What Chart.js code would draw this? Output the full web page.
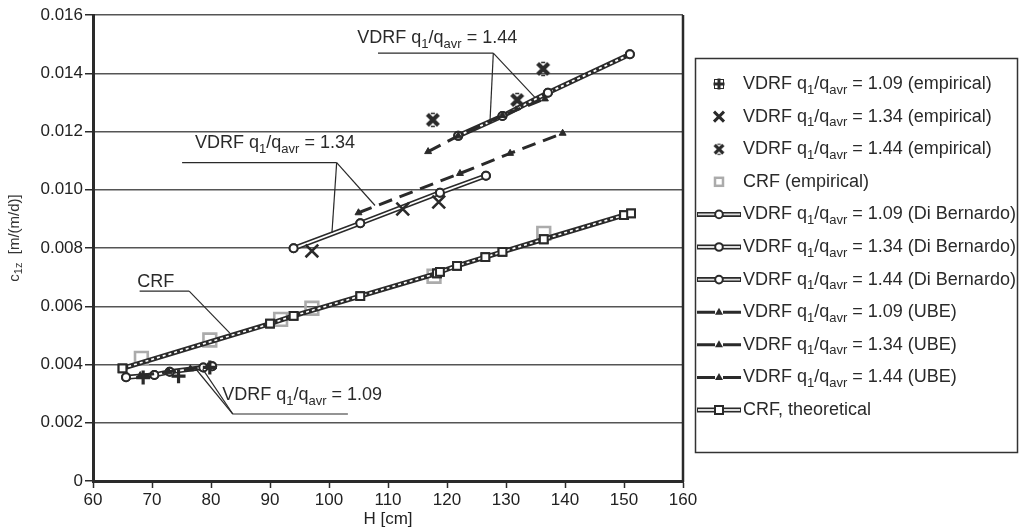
<!DOCTYPE html>
<html><head><meta charset="utf-8">
<style>html,body{margin:0;padding:0;background:#fff;}#wrap{width:1021px;height:532px;}</style>
<script src="https://cdn.jsdelivr.net/npm/chart.js@4.4.0/dist/chart.umd.min.js"></script>
</head><body><div id="wrap"><canvas id="c" width="1021" height="532"></canvas></div>
<script>
// ---------- data ----------
const xTicks = [60,70,80,90,100,110,120,130,140,150,160];
const yTicks = [0,0.002,0.004,0.006,0.008,0.010,0.012,0.014,0.016];
const yTickLabels = ['0','0.002','0.004','0.006','0.008','0.010','0.012','0.014','0.016'];

const H_emp109 = [68.5, 74.5, 79.8];
const c_emp109 = [0.00355, 0.00360, 0.00390];
const H_emp134 = [97.1, 112.5, 118.6];
const c_emp134 = [0.00790, 0.00934, 0.00958];
const H_emp144 = [117.6, 131.9, 136.3];
const c_emp144 = [0.01240, 0.01308, 0.01415];
const H_crfEmp = [68.2, 79.8, 91.8, 97.1, 117.8, 136.4];
const c_crfEmp = [0.00421, 0.00484, 0.00555, 0.00593, 0.00703, 0.00850];

const H_db109 = [65.6, 70.4, 73.0, 78.7, 80.2];
const c_db109 = [0.00356, 0.00364, 0.00375, 0.00390, 0.00394];
const H_db134 = [94.0, 105.3, 118.8, 126.6];
const c_db134 = [0.00799, 0.00885, 0.00990, 0.01048];
const H_db144 = [121.9, 129.4, 137.1, 151.0];
const c_db144 = [0.01185, 0.01253, 0.01333, 0.01465];

const H_ube109 = [68.0, 72.8, 76.5, 79.5];
const c_ube109 = [0.00362, 0.00375, 0.00385, 0.00393];
const H_ube134 = [105.0, 122.2, 130.7, 139.6];
const c_ube134 = [0.00921, 0.01056, 0.01125, 0.01194];
const H_ube144 = [116.8, 121.9, 129.4, 136.6];
const c_ube144 = [0.01131, 0.01185, 0.01255, 0.01312];

const H_crfTh = [65.0, 90.0, 94.0, 105.3, 118.3, 118.8, 121.7, 126.5, 129.4, 136.4, 150.0, 151.2];
const c_crfTh = [0.00387, 0.00540, 0.00567, 0.00635, 0.00713, 0.00718, 0.00739, 0.00769, 0.00787, 0.00830, 0.00913, 0.00919];

const ratioLabels = ['1.09','1.34','1.44'];
const legendRatio = [0, 1, 2, -1, 0, 1, 2, 0, 1, 2, -1];
const legendSuffix = [' (empirical)',' (empirical)',' (empirical)','CRF (empirical)',' (Di Bernardo)',' (Di Bernardo)',' (Di Bernardo)',' (UBE)',' (UBE)',' (UBE)','CRF, theoretical'];

// ---------- styles ----------
const DARK = '#2a2a2a';
const FONT = '"Liberation Sans", Arial, Helvetica, sans-serif';
const pts = (H, c) => H.map((h, i) => ({x: h, y: c[i]}));

function makeStar() {
  const cv = document.createElement('canvas'); cv.width = 18; cv.height = 18;
  const g = cv.getContext('2d'); g.strokeStyle = DARK;
  g.lineWidth = 4.2; g.beginPath(); g.moveTo(3.5,3.5); g.lineTo(14.5,14.5); g.moveTo(14.5,3.5); g.lineTo(3.5,14.5); g.stroke();
  g.lineWidth = 1.6; g.beginPath(); g.moveTo(7,2.5); g.lineTo(11,2.5); g.moveTo(7,15.5); g.lineTo(11,15.5); g.stroke();
  return cv;
}
const starImg = makeStar();

const emp = (label, data, style, r, bw, color, order) => ({
  label, data, showLine: false, pointStyle: style, pointRadius: r, pointHoverRadius: r,
  borderColor: color, backgroundColor: color, pointBorderWidth: bw, order
});
const dbLine = (label, data, inner, style, r) => ({
  label, data, showLine: true, borderColor: DARK, borderWidth: 5, pointStyle: style || 'circle',
  pointRadius: r || 4, pointBorderWidth: 2, pointBackgroundColor: '#fff', pointBorderColor: DARK,
  inner, order: 3, tension: 0
});
const ubeLine = (label, data) => ({
  label, data, showLine: true, borderColor: DARK, borderWidth: 3, borderDash: [14, 8],
  pointStyle: 'triangle', pointRadius: 4, pointBackgroundColor: DARK, pointBorderColor: DARK,
  pointBorderWidth: 1, order: 2, tension: 0
});

const datasets = [
  emp('emp109', pts(H_emp109, c_emp109), 'cross', 7, 3.2, DARK, 1),
  emp('emp134', pts(H_emp134, c_emp134), 'crossRot', 9, 2.6, DARK, 1),
  emp('emp144', pts(H_emp144, c_emp144), starImg, 9, 1, DARK, 1),
  Object.assign(emp('crfEmp', pts(H_crfEmp, c_crfEmp), 'rect', 9, 2.6, '#ababab', 4), {backgroundColor: 'rgba(0,0,0,0)'}),
  dbLine('db109', pts(H_db109, c_db109), {color: '#fff', width: 1.8}),
  dbLine('db134', pts(H_db134, c_db134), {color: '#fff', width: 1.8}),
  dbLine('db144', pts(H_db144, c_db144), {color: '#fff', width: 1.8, dash: [3, 3]}),
  ubeLine('ube109', pts(H_ube109, c_ube109)),
  ubeLine('ube134', pts(H_ube134, c_ube134)),
  ubeLine('ube144', pts(H_ube144, c_ube144)),
  dbLine('crfTh', pts(H_crfTh, c_crfTh), {color: '#fff', width: 1.6, dash: [3, 3]}, 'rect', 5.5)
];

// ---------- rich text ----------
function ratioParts(v) { return [['VDRF q'], ['1', 1], ['/q'], ['avr', 1], [' = ' + v]]; }
function richWidth(ctx, parts, size, sub) {
  let w = 0;
  parts.forEach(p => { ctx.font = (p[1] ? sub : size) + 'px ' + FONT; w += ctx.measureText(p[0]).width; });
  return w;
}
function drawRich(ctx, x, y, parts, size, sub, dy) {
  ctx.textBaseline = 'middle'; ctx.textAlign = 'left';
  parts.forEach(p => {
    ctx.font = (p[1] ? sub : size) + 'px ' + FONT;
    ctx.fillText(p[0], x, p[1] ? y + dy : y);
    x += ctx.measureText(p[0]).width;
  });
  return x;
}

// ---------- annotations (data coordinates) ----------
const notes = [
  {parts: [['CRF']], at: [67.5, 0.00682], align: 'left', lines: [[[67.9, 0.00652], [76.3, 0.00652]], [[76.3, 0.00652], [83.2, 0.00508]]]},
  {parts: ratioParts(ratioLabels[0]), at: [81.9, 0.00295], align: 'left', lines: [[[83.7, 0.00230], [103.2, 0.00230]], [[83.7, 0.00230], [77.3, 0.00388]], [[83.7, 0.00230], [78.6, 0.00384]]]},
  {parts: ratioParts(ratioLabels[1]), at: [104.4, 0.01160], align: 'right', lines: [[[75.1, 0.01093], [101.3, 0.01093]], [[101.3, 0.01093], [100.5, 0.00852]], [[101.3, 0.01093], [107.8, 0.00946]]]},
  {parts: ratioParts(ratioLabels[2]), at: [131.9, 0.01521], align: 'right', lines: [[[108.3, 0.01469], [127.85, 0.01469]], [[127.85, 0.01469], [127.3, 0.01240]], [[127.85, 0.01469], [134.9, 0.01317]]]}
];

// ---------- legend symbols ----------
function sym(ctx, type, cx, cy) {
  ctx.save();
  ctx.strokeStyle = DARK; ctx.fillStyle = DARK; ctx.setLineDash([]);
  const lineL = 697, lineR = 741;
  if (type === 'plus') {
    ctx.lineWidth = 3; ctx.beginPath(); ctx.moveTo(cx - 5.5, cy); ctx.lineTo(cx + 5.5, cy); ctx.moveTo(cx, cy - 5.5); ctx.lineTo(cx, cy + 5.5); ctx.stroke();
    ctx.lineWidth = 1; ctx.strokeRect(cx - 4.5, cy - 4.5, 9, 9);
  } else if (type === 'x') {
    ctx.lineWidth = 3; ctx.beginPath(); ctx.moveTo(cx - 5, cy - 5); ctx.lineTo(cx + 5, cy + 5); ctx.moveTo(cx + 5, cy - 5); ctx.lineTo(cx - 5, cy + 5); ctx.stroke();
  } else if (type === 'star') {
    ctx.drawImage(starImg, cx - 7, cy - 7, 14, 14);
  } else if (type === 'graysq') {
    ctx.strokeStyle = '#ababab'; ctx.lineWidth = 2.5; ctx.strokeRect(cx - 4, cy - 4, 8, 8);
  } else if (type === 'db' || type === 'crf') {
    ctx.lineWidth = 5; ctx.beginPath(); ctx.moveTo(lineL, cy); ctx.lineTo(lineR, cy); ctx.stroke();
    ctx.strokeStyle = '#ddd'; ctx.lineWidth = 1.8; ctx.beginPath(); ctx.moveTo(lineL + 1, cy); ctx.lineTo(lineR - 1, cy); ctx.stroke();
    ctx.strokeStyle = DARK; ctx.fillStyle = '#fff'; ctx.lineWidth = 2;
    if (type === 'crf') { ctx.fillRect(cx - 4, cy - 4, 8, 8); ctx.strokeRect(cx - 4, cy - 4, 8, 8); }
    else { ctx.beginPath(); ctx.arc(cx, cy, 3.8, 0, Math.PI * 2); ctx.fill(); ctx.stroke(); }
  } else if (type === 'ube') {
    ctx.lineWidth = 3; ctx.setLineDash([18, 8]); ctx.beginPath(); ctx.moveTo(lineL, cy); ctx.lineTo(lineR, cy); ctx.stroke();
    ctx.setLineDash([]); ctx.beginPath(); ctx.moveTo(cx, cy - 4.5); ctx.lineTo(cx + 4, cy + 2.5); ctx.lineTo(cx - 4, cy + 2.5); ctx.closePath(); ctx.fill();
  }
  ctx.restore();
}
const legendTypes = ['plus','x','star','graysq','db','db','db','ube','ube','ube','crf'];

// ---------- plugins ----------
const innerPlugin = {
  id: 'inner',
  afterDatasetDraw(chart, args) {
    const ds = chart.data.datasets[args.index];
    if (!ds.inner) return;
    const P = args.meta.data, ctx = chart.ctx;
    ctx.save();
    ctx.beginPath();
    P.forEach((p, i) => i ? ctx.lineTo(p.x, p.y) : ctx.moveTo(p.x, p.y));
    ctx.strokeStyle = ds.inner.color; ctx.lineWidth = ds.inner.width; ctx.setLineDash(ds.inner.dash || []);
    ctx.stroke();
    ctx.restore();
    P.forEach(p => p.draw(ctx, chart.chartArea));
  }
};

const decorPlugin = {
  id: 'decor',
  beforeDatasetsDraw(chart) {
    const {ctx, chartArea: a} = chart;
    ctx.save(); ctx.strokeStyle = DARK; ctx.lineWidth = 2.5;
    ctx.beginPath(); ctx.moveTo(a.right, a.top); ctx.lineTo(a.right, a.bottom + 1); ctx.stroke();
    ctx.restore();
  },
  afterDraw(chart) {
    const {ctx} = chart, xs = chart.scales.x, ys = chart.scales.y;
    const X = v => xs.getPixelForValue(v), Y = v => ys.getPixelForValue(v);
    ctx.save();
    // annotations
    ctx.fillStyle = DARK; ctx.strokeStyle = DARK; ctx.lineWidth = 1.2;
    notes.forEach(n => {
      n.lines.forEach(l => { ctx.beginPath(); ctx.moveTo(X(l[0][0]), Y(l[0][1])); ctx.lineTo(X(l[1][0]), Y(l[1][1])); ctx.stroke(); });
      let x = X(n.at[0]);
      if (n.align === 'right') x -= richWidth(ctx, n.parts, 18, 13);
      drawRich(ctx, x, Y(n.at[1]), n.parts, 18, 13, 6);
    });
    // y title
    ctx.save();
    ctx.translate(15, 238); ctx.rotate(-Math.PI / 2);
    const tparts = [['c'], ['1z', 1], ['  [m/(m/d)]']];
    const tw = richWidth(ctx, tparts, 15, 11);
    ctx.fillStyle = '#333';
    drawRich(ctx, -tw / 2, 0, tparts, 15, 11, 4);
    ctx.restore();
    // legend
    ctx.strokeStyle = '#333'; ctx.lineWidth = 1.5;
    ctx.strokeRect(695.5, 58.5, 322, 394);
    ctx.fillStyle = DARK;
    legendTypes.forEach((t, i) => {
      const cy = 84 + i * 32.6;
      sym(ctx, t, 719, cy);
      const parts = legendRatio[i] < 0 ? [[legendSuffix[i]]] : ratioParts(ratioLabels[legendRatio[i]]).concat([[legendSuffix[i]]]);
      drawRich(ctx, 743, cy, parts, 18, 13, 6);
    });
    ctx.restore();
  }
};

new Chart(document.getElementById('c'), {
  type: 'scatter',
  data: {datasets},
  plugins: [innerPlugin, decorPlugin],
  options: {
    responsive: false, animation: false, devicePixelRatio: 1,
    layout: {padding: {left: 0, right: 338, top: 15, bottom: 0}},
    plugins: {legend: {display: false}, tooltip: {enabled: false}},
    elements: {line: {tension: 0}},
    scales: {
      x: {
        type: 'linear', min: 60, max: 160,
        afterBuildTicks: s => { s.ticks = xTicks.map(v => ({value: v})); },
        afterFit: s => { s.height = 51; },
        ticks: {font: {size: 17, family: FONT}, color: '#222', padding: 2, maxRotation: 0, autoSkip: false},
        grid: {drawOnChartArea: false, tickLength: 7, tickColor: DARK, tickWidth: 1.5},
        border: {color: DARK, width: 3},
        title: {display: true, text: 'H [cm]', font: {size: 17, family: FONT}, color: '#222', padding: {top: 0, bottom: 2}}
      },
      y: {
        type: 'linear', min: 0, max: 0.016,
        afterBuildTicks: s => { s.ticks = yTicks.map(v => ({value: v})); },
        afterFit: s => { s.width = 93; },
        ticks: {font: {size: 17, family: FONT}, color: '#222', padding: 2, autoSkip: false,
          callback: (v, i) => yTickLabels[i]},
        grid: {color: '#555', lineWidth: 1.5, tickLength: 8, tickColor: DARK, tickWidth: 1.5},
        border: {color: DARK, width: 3}
      }
    }
  }
});
</script>
</body></html>
